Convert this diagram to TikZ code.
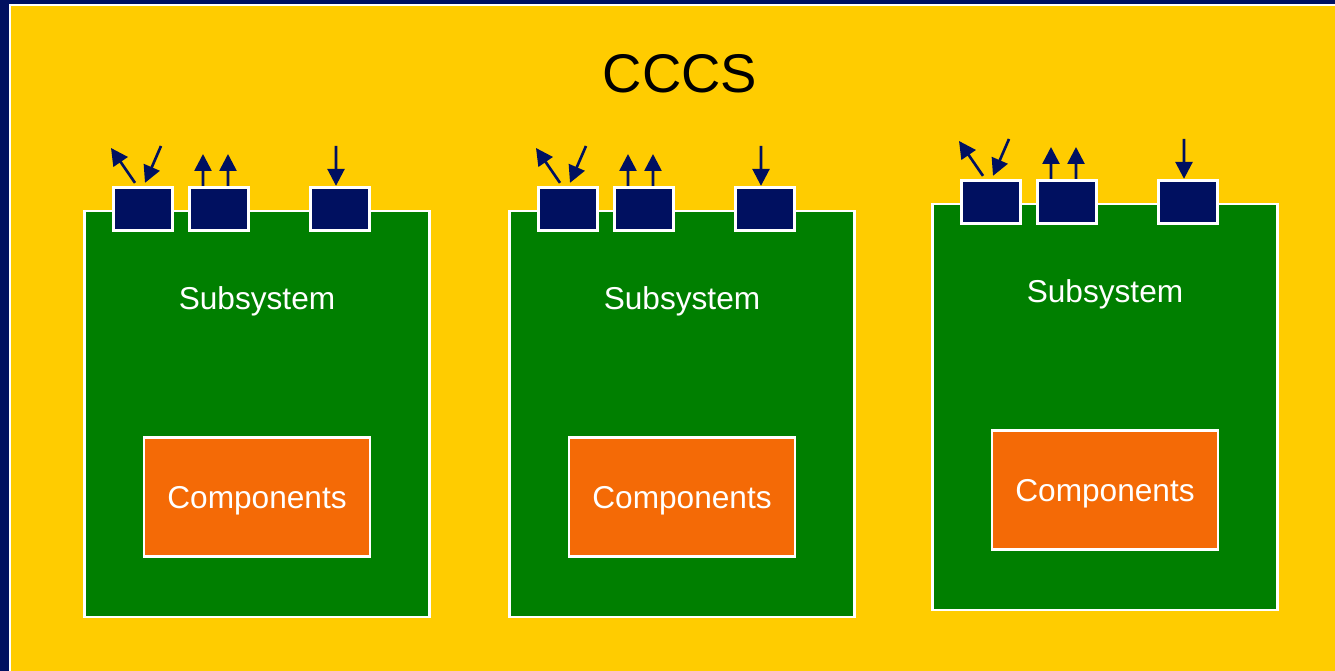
\documentclass[tikz,border=0pt]{standalone}
\usepackage{fontspec}
\setmainfont{Liberation Sans}
\usetikzlibrary{arrows.meta}
\definecolor{slidenavy}{HTML}{001060}
\definecolor{slideyellow}{HTML}{FFCC00}
\definecolor{subgreen}{HTML}{007F00}
\definecolor{comporange}{HTML}{F46A06}

\begin{document}
\begin{tikzpicture}[x=0.02cm,y=-0.02cm,
    subsys/.style={draw=white,line width=1.6pt,fill=subgreen,minimum width=6.9cm,minimum height=8.12cm,inner sep=0pt},
    comp/.style={draw=white,line width=1.6pt,fill=comporange,minimum width=4.52cm,minimum height=2.38cm,inner sep=0pt,text depth=0pt,text=white,font=\fontsize{18}{21}\selectfont},
    port/.style={draw=white,line width=1.6pt,fill=slidenavy,minimum width=1.17cm,minimum height=0.87cm,inner sep=0pt},
    sig/.style={slidenavy,line width=1.5pt,-{Triangle[width=0.34cm,length=0.34cm]}},
    sublabel/.style={text=white,font=\fontsize{18}{21}\selectfont}]
  \useasboundingbox (0,0) rectangle (1335,671);
  \clip (0,0) rectangle (1335,671);

  % Slide background
  \fill[slidenavy] (0,0) rectangle (1335,671);
  \draw[white,line width=1.6pt,fill=slideyellow] (10,5) rectangle (1350,690);
  \node[font=\fontsize{31}{37}\selectfont] (title) at (680,74) {CCCS};

  % The three subsystems, each with its ports
  \foreach \i/\dx/\dy in {1/0/0, 2/425/0, 3/848/-7}{
    \begin{scope}[shift={(\dx,\dy)}]
      \node[subsys] (sub\i) at (257,414) {};
      \node[sublabel] (lab\i) at (257,301) {Subsystem};
      \node[comp] (comp\i) at (257,497) {Components};

      \node[port] (pa\i) at (143,209) {};
      \node[port] (pb\i) at (219,209) {};
      \node[port] (pc\i) at (340,209) {};

      \coordinate (out\i) at (111,148);
      \coordinate (in\i) at (161,146);
      \coordinate (upa\i) at (203,154);
      \coordinate (upb\i) at (228,154);
      \coordinate (dn\i) at (336,146);

      \draw[sig] ([xshift=-0.16cm,yshift=0.06cm]pa\i.north) -- (out\i);
      \draw[sig] (in\i) -- ([xshift=0.04cm,yshift=0.06cm]pa\i.north);
      \draw[sig] ([xshift=-0.32cm]pb\i.north) -- (upa\i);
      \draw[sig] ([xshift=0.18cm]pb\i.north) -- (upb\i);
      \draw[sig] (dn\i) -- ([xshift=-0.08cm]pc\i.north);
    \end{scope}
  }
\end{tikzpicture}
\end{document}
